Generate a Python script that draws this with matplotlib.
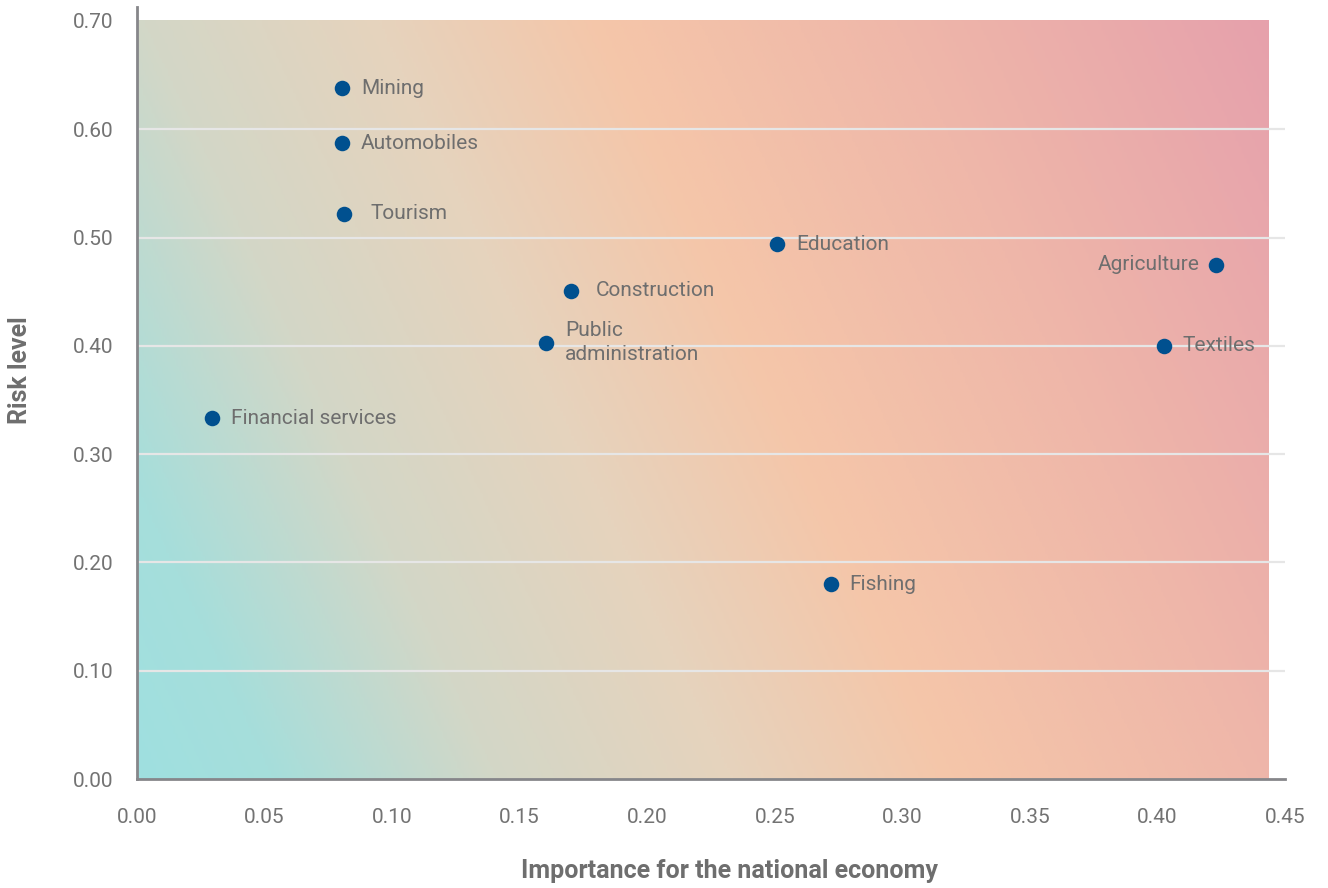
import numpy as np
import matplotlib.pyplot as plt
from matplotlib.colors import LinearSegmentedColormap

plt.rcParams['font.family'] = ['Roboto', 'DejaVu Sans']

# Sector data
sectors = ["Mining", "Automobiles", "Tourism", "Education", "Agriculture",
           "Construction", "Public\nadministration", "Textiles",
           "Financial services", "Fishing"]
importance = [0.0805, 0.0805, 0.081, 0.251, 0.423, 0.170, 0.1605, 0.4025, 0.0295, 0.272]
risk = [0.638, 0.587, 0.522, 0.494, 0.475, 0.451, 0.403, 0.400, 0.333, 0.180]

x_ticks = [0.00, 0.05, 0.10, 0.15, 0.20, 0.25, 0.30, 0.35, 0.40, 0.45]
y_ticks = [0.00, 0.10, 0.20, 0.30, 0.40, 0.50, 0.60, 0.70]

# label offsets in points (dx, dy)
offsets = {"Tourism": (19, 0), "Construction": (18, 0), "Agriculture": (-12, 0)}

W, H = 1328, 888
fig = plt.figure(figsize=(W / 100, H / 100), dpi=100)
ax = fig.add_axes([137 / W, 1 - 779 / H, (1285 - 137) / W, (779 - 7) / H])
ax.set_xlim(0, 0.45)
ax.set_ylim(0, 0.7129)

# diagonal background gradient
gx1, gy1 = 0.4435, 0.70
nx, ny = 400, 300
xs = np.linspace(0, gx1, nx)
ys = np.linspace(0, gy1, ny)
X, Y = np.meshgrid(xs, ys)
px = X / 0.45 * 1148
py = Y / 0.1 * 108.3
ang = np.deg2rad(25)
p = px * np.cos(ang) + py * np.sin(ang)
p = p / p.max()
cmap = LinearSegmentedColormap.from_list("bg", [
    (0.00, "#9fe0e0"),
    (0.09, "#a6dedb"),
    (0.24, "#d3d7c7"),
    (0.40, "#e6d3bd"),
    (0.55, "#f5c6a9"),
    (0.75, "#efb7a9"),
    (1.00, "#e6a1ac"),
])
ax.imshow(p, extent=(0, gx1, 0, gy1), origin="lower", aspect="auto",
          cmap=cmap, vmin=0, vmax=1, zorder=0, interpolation="bilinear")

# grid lines
for yv in y_ticks[1:-1]:
    ax.axhline(yv, color="#e6e6e6", lw=1.6, zorder=1)

ax.scatter(importance, risk, s=125, color="#00508f", zorder=3, linewidths=0)

for name, xv, yv in zip(sectors, importance, risk):
    dx, dy = offsets.get(name, (13.5, 0))
    ha = "right" if dx < 0 else "left"
    ax.annotate(name, (xv, yv), xytext=(dx, dy), textcoords="offset points",
                ha=ha, va="center", fontsize=15, color="#6e6e6e",
                linespacing=1.38, zorder=4)

ax.set_xticks(x_ticks)
ax.set_xticklabels([f"{v:.2f}" for v in x_ticks])
ax.set_yticks(y_ticks)
ax.set_yticklabels([f"{v:.2f}" for v in y_ticks])
ax.tick_params(length=0, labelsize=15, labelcolor="#737373")
ax.tick_params(axis="x", pad=21)
ax.tick_params(axis="y", pad=17)

for s in ["top", "right"]:
    ax.spines[s].set_visible(False)
for s in ["left", "bottom"]:
    ax.spines[s].set_color("#86868a")
    ax.spines[s].set_linewidth(2)

fig.text(729 / W, 1 - 871 / H, "Importance for the national economy",
         ha="center", va="center", fontsize=18, fontweight="bold", color="#6e6e6e")
fig.text(20 / W, 1 - 370 / H, "Risk level", rotation=90,
         ha="center", va="center", fontsize=18, fontweight="bold", color="#6e6e6e")

fig.savefig("out.png", dpi=100)
